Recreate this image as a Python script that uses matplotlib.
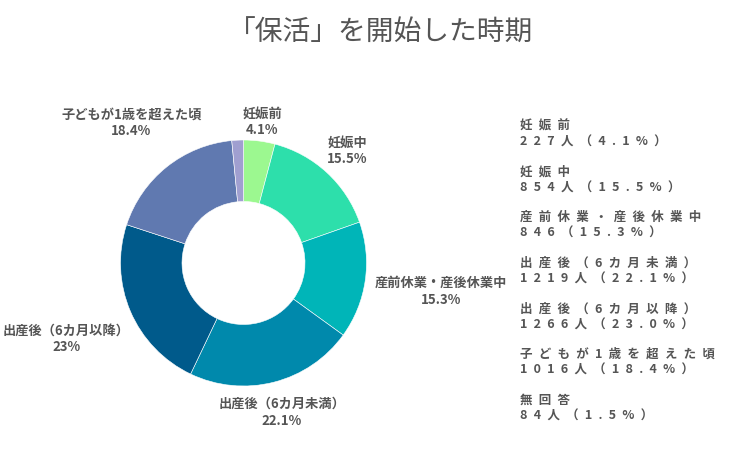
import numpy as np
import matplotlib
matplotlib.use('Agg')
import matplotlib.pyplot as plt

plt.rcParams['font.family'] = ['Noto Sans CJK JP', 'DejaVu Sans']

# DATA
categories = ['妊娠前', '妊娠中', '産前休業・産後休業中', '出産後（6カ月未満）',
              '出産後（6カ月以降）', '子どもが1歳を超えた頃', '無回答']
counts = [227, 854, 846, 1219, 1266, 1016, 84]
units = ['人', '人', '', '人', '人', '人', '人']
colors = ['#9cf890', '#2ddfab', '#00b5b8', '#0089ac', '#005a8b', '#6079b0', '#a09fd0']
title = '「保活」を開始した時期'

W, H = 750, 450
fig = plt.figure(figsize=(W / 100, H / 100), dpi=100)
ax = fig.add_axes([0, 0, 1, 1])

vals = np.array(counts, dtype=float)
pct = vals / vals.sum() * 100

wedges, _ = ax.pie(vals, colors=colors, startangle=90, counterclock=False,
                   radius=1.0, wedgeprops=dict(width=0.5, edgecolor='white', linewidth=0.4))

# pie center / radius in pixels (limits set after pie, which resets them)
cx, cy, R = 243.5, 263, 123
ax.set_xlim(-cx / R, (W - cx) / R)
ax.set_ylim(-(H - cy) / R, cy / R)
ax.set_aspect('equal')
ax.axis('off')

# segment labels, placed on the radial line, further out for wide texts
fig.canvas.draw()
renderer = fig.canvas.get_renderer()
for w, name, p in zip(wedges, categories, pct):
    if p < 2:
        continue
    ang = np.deg2rad((w.theta1 + w.theta2) / 2)
    s = ('%.1f' % p).rstrip('0').rstrip('.')
    t = ax.text(0, 0, name + '\n' + s + '%', ha='center', va='center',
                fontsize=9.5, fontweight='bold', color='#555555', linespacing=1.25)
    bb = t.get_window_extent(renderer)
    half_w = bb.width / 2 / R
    r = 1.14 + 0.9 * half_w * abs(np.cos(ang))
    t.set_position((r * np.cos(ang), r * np.sin(ang)))

# title
fig.text(0.507, 1 - 33 / H, title, ha='center', va='center', fontsize=20, color='#555555')

# right side list with letter spacing
sp = '\u2002'
for i, (name, c, u, p) in enumerate(zip(categories, counts, units, pct)):
    line1 = sp.join(name)
    line2 = sp.join('%d%s（%.1f%%）' % (c, u, p))
    y0 = 126 + i * 45.7
    fig.text(520 / W, 1 - y0 / H, line1, ha='left', va='center', fontsize=9,
             fontweight='bold', color='#555555')
    fig.text(520 / W, 1 - (y0 + 16) / H, line2, ha='left', va='center', fontsize=9,
             fontweight='bold', color='#555555')

fig.savefig('out.png', dpi=100)
